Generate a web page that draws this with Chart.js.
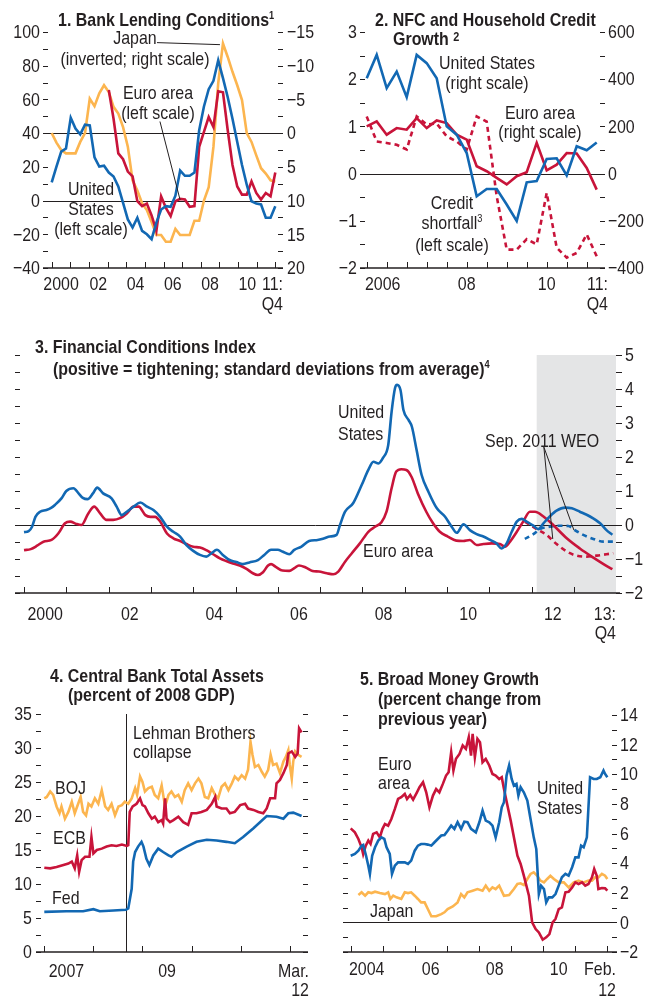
<!DOCTYPE html>
<html>
<head>
<meta charset="utf-8">
<script src="https://cdn.jsdelivr.net/npm/chart.js@4.4.1/dist/chart.umd.min.js"></script>
<style>
  body { margin: 0; background: #fff; }
  #page { position: relative; width: 653px; height: 998px; overflow: hidden; }
  canvas { position: absolute; }
  .t { position: absolute; font: 19px/20px "Liberation Sans", Arial, sans-serif; color: #231f20; white-space: nowrap;
       transform-origin: 0 0; transform: scaleX(0.84); }
  .b { font-weight: bold; }
  .c { transform-origin: 50% 0; transform: translateX(-50%) scaleX(0.84); text-align: center; }
  .s { font-size: 11px; position: relative; top: -7px; }
</style>
</head>
<body>
<div id="page">
  <canvas id="c1" width="326" height="320" style="left:0;top:0"></canvas>
  <canvas id="c2" width="327" height="320" style="left:326px;top:0"></canvas>
  <canvas id="c3" width="653" height="330" style="left:0;top:330px"></canvas>
  <canvas id="c4" width="326" height="343" style="left:0;top:655px"></canvas>
  <canvas id="c5" width="327" height="343" style="left:326px;top:655px"></canvas>

  <!-- panel 1 -->
  <div class="t b" style="left:58px;top:10px">1. Bank Lending Conditions<span class="s">1</span></div>
  <div class="t c" style="left:135px;top:28px;line-height:20.5px">Japan<br>(inverted; right scale)</div>
  <div class="t c" style="left:158px;top:83px">Euro area<br>(left scale)</div>
  <div class="t c" style="left:90.5px;top:179px">United<br>States<br>(left scale)</div>

  <!-- panel 2 -->
  <div class="t b" style="left:375px;top:10px">2. NFC and Household Credit</div>
  <div class="t b" style="left:393px;top:29px">Growth <span style="font-size:13px;position:relative;top:-4px">2</span></div>
  <div class="t c" style="left:486.5px;top:53.4px">United States<br>(right scale)</div>
  <div class="t c" style="left:540px;top:103px;line-height:19px">Euro area<br>(right scale)</div>
  <div class="t c" style="left:452px;top:193.4px">Credit<br>shortfall<span class="s">3</span><br>(left scale)</div>

  <!-- panel 3 -->
  <div class="t b" style="left:35px;top:336.7px">3. Financial Conditions Index</div>
  <div class="t b" style="left:53.3px;top:359.1px">(positive = tightening; standard deviations from average)<span class="s">4</span></div>
  <div class="t" style="left:338px;top:401px;line-height:21.7px">United<br>States</div>
  <div class="t" style="left:363px;top:541px">Euro area</div>
  <div class="t" style="left:485px;top:431.4px">Sep. 2011 WEO</div>

  <!-- panel 4 -->
  <div class="t b" style="left:50px;top:666.4px">4. Central Bank Total Assets</div>
  <div class="t b" style="left:68.3px;top:685.1px">(percent of 2008 GDP)</div>
  <div class="t" style="left:133px;top:723.2px;line-height:19px">Lehman Brothers<br>collapse</div>
  <div class="t" style="left:55px;top:778.4px">BOJ</div>
  <div class="t" style="left:53px;top:828.4px">ECB</div>
  <div class="t" style="left:52px;top:888.4px">Fed</div>

  <!-- panel 5 -->
  <div class="t b" style="left:360px;top:669.1px">5. Broad Money Growth</div>
  <div class="t b" style="left:378.3px;top:689.1px">(percent change from<br>previous year)</div>
  <div class="t" style="left:378px;top:753.9px;line-height:19px">Euro<br>area</div>
  <div class="t" style="left:537px;top:778.4px">United<br>States</div>
  <div class="t" style="left:370px;top:901.1px">Japan</div>
</div>

<script>
"use strict";

// ---- 1. Bank lending conditions, quarterly 2000Q1 - 2011Q4
const lendStart = 2000, lendEnd = 2012;
const lendUS = [10.8, 20.2, 29, 30.9, 49.1, 42.7, 39.3, 45, 44.6, 25.6, 20.2, 20.7, 16.6, 14.3, 8.4, -1.4,
  -11.2, -16, -10.2, -18, -20, -22.9, -13.1, -5.3, -3.3, -3.7, 2.9, 17.8, 14.7, 14.7, 16.6, 41.7,
  55.8, 66.1, 71, 83.2, 72.6, 61.3, 48.5, 34.8, 21.1, 9.4, -0.4, -1.8, -2.3, -10.2, -10.2, -3.3];
const lendEuro = [null, null, null, null, null, null, null, null, null, null, null, null,
  65.6, 48.5, 28, 24.5, 17.2, 14.3, -0.4, -3.3, -1.8, -8.8, -18, 2.5, -4.3, -9.2, -0.4, 1,
  0.6, -3.7, -3.3, 31.9, 40.7, 49.5, 43.6, 64.8, 64.2, 41.7, 21.1, 8.4, 3.5, 3.5, 11.4, 4.5,
  0.6, 4.5, 2.5, 16.6];
const lendJapan = [0, 1.4, 2.5, 3.0, 3.0, 3.0, 1.3, 0, -5.1, -4.0, -5.9, -7.1, -6.1, -3.9, -2.9, -0.9,
  2.0, 7.0, 8.5, 10.4, 11.4, 13.2, 15.1, 15.1, 16.1, 16.1, 14.2, 15.1, 15.1, 15.1, 13.0, 13.0,
  10.0, 8.0, 2.0, -7.4, -13.3, -11.3, -9.1, -7.1, -4.9, 0, 1.3, 3.3, 5.2, 6.0, 7.0, 7.2];

// ---- 2. NFC and household credit, quarterly 2006Q1 - 2011Q4
const creditStart = 2006;
const creditUS = [404, 503, 362, 432, 324, 503, 468, 404, 200, 165, 87, -96, -65, -65, -131, -201,
  -37, -32, 62, 65, -8, 116, 99, 132];
const creditEuro = [200, 221, 165, 193, 186, 235, 193, 225, 214, 165, 144, 31, 10, -18, -46, -11,
  6, 130, 14, 38, 87, 85, 24, -68];
const creditShortfall = [1.21, 0.68, 0.65, 0.61, 0.51, 1.21, 1.04, 1.06, 0.79, 0.68, 0.51, 1.21, 1.1,
  -0.48, -1.61, -1.61, -1.39, -1.5, -0.41, -1.57, -1.78, -1.68, -1.29, -1.75];

// ---- 3. Financial conditions index
const fciUSDates = [2000.0, 2000.11, 2000.19, 2000.27, 2000.38, 2000.53, 2000.65, 2000.73, 2000.89, 2001.0,
  2001.17, 2001.29, 2001.39, 2001.5, 2001.63, 2001.73, 2001.87, 2002.07, 2002.19, 2002.31, 2002.43,
  2002.59, 2002.75, 2002.91, 2003.06, 2003.22, 2003.38, 2003.53, 2003.69, 2003.84, 2004.0, 2004.16,
  2004.31, 2004.43, 2004.56, 2004.7, 2004.86, 2005.02, 2005.17, 2005.33, 2005.53, 2005.68, 2005.84,
  2006.0, 2006.11, 2006.27, 2006.39, 2006.55, 2006.74, 2006.94, 2007.1, 2007.23, 2007.39, 2007.47,
  2007.59, 2007.78, 2007.98, 2008.14, 2008.26, 2008.38, 2008.49, 2008.61, 2008.69, 2008.77, 2008.82,
  2008.9, 2008.97, 2009.09, 2009.17, 2009.28, 2009.4, 2009.56, 2009.76, 2009.95, 2010.11, 2010.23,
  2010.39, 2010.54, 2010.7, 2010.86, 2011.02, 2011.17, 2011.29, 2011.41, 2011.53, 2011.65, 2011.77,
  2011.88, 2012.04, 2012.16, 2012.28, 2012.43, 2012.59, 2012.79, 2012.95, 2013.14, 2013.38, 2013.62,
  2013.77, 2013.91];
const fciUS = [-0.21, -0.18, -0.05, 0.24, 0.39, 0.44, 0.51, 0.59, 0.79, 1.0,
  1.08, 0.93, 0.80, 0.76, 0.93, 1.1, 0.93, 0.78, 0.54, 0.29, 0.39,
  0.54, 0.66, 0.54, 0.44, 0.24, -0.05, -0.2, -0.34, -0.59, -0.76, -0.88,
  -0.93, -0.83, -0.73, -0.88, -1.03, -1.09, -1.15, -1.1, -1.03, -0.88, -0.73,
  -0.73, -0.78, -0.86, -0.73, -0.64, -0.47, -0.44, -0.39, -0.34, -0.29, 0,
  0.39, 0.64, 1.17, 1.62, 1.86, 1.81, 1.98, 2.35, 3.33, 4.02, 4.12,
  3.97, 3.38, 3.09, 2.89, 2.21, 1.47, 0.98, 0.49, 0.25, -0.05, -0.23,
  0.02, -0.15, -0.27, -0.34, -0.44, -0.54, -0.69, -0.54, -0.2, 0.1, 0.18,
  0.1, -0.02, -0.12, 0.05, 0.25, 0.42, 0.51, 0.49, 0.39, 0.25, 0.05,
  -0.15, -0.29];
const fciEuroDates = [2000.0, 2000.16, 2000.31, 2000.46, 2000.65, 2000.81, 2000.97, 2001.09, 2001.24, 2001.36,
  2001.52, 2001.66, 2001.8, 2001.95, 2002.11, 2002.27, 2002.43, 2002.59, 2002.71, 2002.87, 2002.99,
  2003.1, 2003.22, 2003.38, 2003.53, 2003.69, 2003.84, 2004.0, 2004.16, 2004.31, 2004.47, 2004.63,
  2004.78, 2004.94, 2005.1, 2005.26, 2005.41, 2005.53, 2005.65, 2005.77, 2005.84, 2005.96, 2006.11,
  2006.27, 2006.39, 2006.5, 2006.66, 2006.82, 2006.97, 2007.16, 2007.31, 2007.43, 2007.59, 2007.75,
  2007.94, 2008.14, 2008.3, 2008.45, 2008.57, 2008.69, 2008.8, 2008.92, 2009.04, 2009.16, 2009.31,
  2009.51, 2009.67, 2009.83, 2010.02, 2010.22, 2010.38, 2010.54, 2010.7, 2010.86, 2011.06, 2011.25,
  2011.37, 2011.49, 2011.65, 2011.8, 2011.96, 2012.08, 2012.28, 2012.51, 2012.83, 2013.14, 2013.46,
  2013.7, 2013.91];
const fciEuro = [-0.74, -0.71, -0.61, -0.49, -0.44, -0.25, 0.05, 0.1, 0.03, 0,
  0.34, 0.54, 0.34, 0.15, 0.15, 0.2, 0.34, 0.54, 0.54, 0.29, 0.24,
  0.24, 0.1, -0.25, -0.39, -0.47, -0.56, -0.64, -0.66, -0.74, -0.86, -0.98,
  -1.06, -1.13, -1.19, -1.29, -1.42, -1.47, -1.39, -1.19, -1.15, -1.24, -1.34,
  -1.35, -1.27, -1.19, -1.25, -1.35, -1.37, -1.42, -1.45, -1.37, -1.08, -0.83,
  -0.54, -0.2, -0.05, 0.08, 0.39, 1.08, 1.57, 1.64, 1.62, 1.42, 0.93,
  0.39, 0.05, -0.2, -0.34, -0.46, -0.47, -0.44, -0.59, -0.56, -0.54, -0.56,
  -0.64, -0.49, -0.2, 0.1, 0.39, 0.39, 0.25, 0, -0.39, -0.69, -0.96,
  -1.15, -1.3];
const weoUSDates = [2011.84, 2012.04, 2012.2, 2012.43, 2012.67, 2012.87, 2013.02, 2013.22, 2013.46, 2013.7, 2013.93];
const weoUS = [-0.41, -0.27, -0.12, -0.05, -0.02, -0.03, -0.15, -0.29, -0.41, -0.49, -0.49];
const weoEuroDates = [2011.84, 2012.12, 2012.35, 2012.59, 2012.83, 2013.06, 2013.3, 2013.54, 2013.77, 2013.93];
const weoEuro = [0.1, -0.12, -0.29, -0.56, -0.78, -0.9, -0.93, -0.9, -0.86, -0.83];
const forecastFrom = 2012.12;

// ---- 4. Central bank total assets (percent of 2008 GDP)
const fedDates = [2007.0, 2007.45, 2007.79, 2008.0, 2008.13, 2008.41, 2008.66, 2008.71, 2008.78, 2008.81,
  2008.85, 2008.91, 2008.98, 2009.02, 2009.08, 2009.14, 2009.22, 2009.32, 2009.42, 2009.53, 2009.59,
  2009.7, 2009.9, 2010.1, 2010.31, 2010.51, 2010.71, 2010.88, 2011.05, 2011.26, 2011.53, 2011.73,
  2011.87, 2011.97, 2012.07, 2012.24];
const fed = [5.9, 6.0, 6.0, 6.3, 6.0, 6.1, 6.2, 6.4, 9.3, 13.3,
  14.7, 15.5, 16.2, 15.5, 13.7, 12.8, 14.2, 15.2, 14.7, 14.2, 14.0,
  14.7, 15.5, 16.2, 16.5, 16.4, 16.2, 16.0, 16.9, 18.2, 20.0, 19.9,
  19.6, 20.4, 20.5, 20.0];
const ecbDates = [2007.0, 2007.12, 2007.25, 2007.39, 2007.49, 2007.56, 2007.62, 2007.67, 2007.71, 2007.76,
  2007.83, 2007.92, 2007.96, 2008.0, 2008.07, 2008.17, 2008.27, 2008.37, 2008.47, 2008.58, 2008.68,
  2008.71, 2008.74, 2008.8, 2008.88, 2008.95, 2009.0, 2009.05, 2009.12, 2009.19, 2009.25, 2009.32,
  2009.39, 2009.42, 2009.46, 2009.49, 2009.56, 2009.63, 2009.73, 2009.83, 2009.93, 2010.0, 2010.1,
  2010.2, 2010.31, 2010.41, 2010.48, 2010.51, 2010.61, 2010.71, 2010.78, 2010.88, 2010.99, 2011.09,
  2011.15, 2011.26, 2011.36, 2011.46, 2011.53, 2011.6, 2011.7, 2011.73, 2011.8, 2011.87, 2011.94,
  2011.97, 2012.04, 2012.11, 2012.16, 2012.19, 2012.24];
const ecb = [12.4, 12.3, 12.5, 12.8, 13.0, 13.3, 12.3, 14.2, 11.8, 13.5,
  14.0, 14.0, 16.9, 14.5, 15.0, 15.2, 15.5, 15.7, 15.6, 15.8, 15.6,
  15.7, 20.6, 21.4, 21.8, 22.6, 21.6, 21.4, 20.4, 19.6, 19.9, 19.1,
  19.4, 18.9, 22.6, 19.6, 19.1, 19.4, 19.9, 19.1, 18.7, 20.4, 20.4,
  20.6, 20.9, 21.8, 22.8, 21.4, 21.1, 21.1, 20.4, 20.6, 21.6, 21.8,
  21.1, 20.9, 20.6, 20.4, 21.1, 22.6, 22.6, 24.8, 25.3, 26.3, 27.5,
  29.2, 29.5, 28.7, 29.2, 32.9, 32.3];
const bojDates = [2007.0, 2007.05, 2007.12, 2007.18, 2007.25, 2007.31, 2007.35, 2007.42, 2007.49, 2007.56,
  2007.62, 2007.69, 2007.74, 2007.79, 2007.85, 2007.9, 2007.96, 2008.03, 2008.1, 2008.17, 2008.24,
  2008.3, 2008.37, 2008.44, 2008.51, 2008.58, 2008.64, 2008.71, 2008.78, 2008.85, 2008.89, 2008.95,
  2009.0, 2009.05, 2009.12, 2009.19, 2009.25, 2009.32, 2009.39, 2009.46, 2009.53, 2009.59, 2009.66,
  2009.73, 2009.8, 2009.86, 2009.93, 2010.0, 2010.07, 2010.14, 2010.2, 2010.27, 2010.34, 2010.41,
  2010.48, 2010.54, 2010.61, 2010.68, 2010.75, 2010.82, 2010.88, 2010.95, 2011.02, 2011.09, 2011.15,
  2011.2, 2011.24, 2011.29, 2011.36, 2011.43, 2011.49, 2011.56, 2011.61, 2011.66, 2011.73, 2011.8,
  2011.87, 2011.92, 2011.97, 2012.0, 2012.04, 2012.07, 2012.11, 2012.17, 2012.24];
const boj = [22.6, 22.8, 23.6, 23.1, 21.4, 20.4, 21.4, 19.6, 20.6, 22.1,
  20.4, 21.8, 22.8, 20.6, 20.1, 21.8, 21.4, 22.6, 21.8, 23.8, 21.4,
  20.9, 21.8, 20.1, 21.4, 21.6, 22.1, 21.8, 22.6, 24.1, 23.1, 25.8,
  25.0, 23.6, 24.1, 24.3, 23.1, 22.6, 24.5, 21.4, 23.1, 23.6, 22.8,
  23.1, 22.1, 23.8, 24.8, 23.8, 24.8, 25.5, 24.8, 22.8, 22.6, 24.1,
  23.1, 22.6, 24.3, 24.8, 23.8, 24.8, 25.8, 25.3, 26.0, 25.5, 26.8,
  30.9, 29.0, 27.2, 27.5, 26.5, 25.8, 26.8, 29.0, 27.5, 27.7, 26.3,
  28.0, 28.7, 29.7, 27.5, 25.5, 28.0, 29.5, 29.0, 28.7];
const lehmanDate = 2008.67;

// ---- 5. Broad money growth (percent change from previous year)
const m3EuroDates = [2004.0, 2004.13, 2004.24, 2004.34, 2004.39, 2004.47, 2004.55, 2004.62, 2004.7, 2004.81,
  2004.91, 2004.99, 2005.07, 2005.17, 2005.27, 2005.38, 2005.48, 2005.58, 2005.69, 2005.76, 2005.86,
  2005.95, 2006.07, 2006.15, 2006.26, 2006.36, 2006.46, 2006.57, 2006.67, 2006.77, 2006.88, 2006.98,
  2007.06, 2007.14, 2007.21, 2007.29, 2007.4, 2007.5, 2007.6, 2007.69, 2007.76, 2007.81, 2007.88,
  2007.96, 2008.04, 2008.12, 2008.22, 2008.33, 2008.43, 2008.53, 2008.64, 2008.72, 2008.79, 2008.9,
  2009.0, 2009.1, 2009.21, 2009.31, 2009.41, 2009.57, 2009.67, 2009.78, 2009.88, 2010.0, 2010.11,
  2010.21, 2010.31, 2010.4, 2010.5, 2010.6, 2010.71, 2010.81, 2010.92, 2011.02, 2011.12, 2011.23,
  2011.33, 2011.43, 2011.54, 2011.61, 2011.69, 2011.74, 2011.85, 2011.95, 2012.02];
const m3Euro = [6.35, 6.08, 5.63, 5.07, 4.6, 5.18, 5.52, 5.3, 5.97, 6.08,
  5.74, 6.3, 6.64, 6.53, 6.98, 7.66, 8.33, 8.45, 8.67, 8.33, 8.6,
  8.29, 8.78, 9.12, 9.46, 8.78, 7.77, 8.56, 9.0, 8.78, 9.35, 9.91,
  10.14, 11.49, 10.25, 11.04, 11.37, 11.94, 11.71, 12.5, 11.26, 12.73, 11.15,
  12.39, 12.16, 10.81, 11.04, 10.59, 10.02, 9.91, 9.68, 9.8, 9.0, 7.88,
  6.87, 5.74, 4.5, 3.94, 3.15, 1.8, 0, -0.45, -0.68, -1.17, -1.01,
  -0.79, 0, 0.23, 0.9, 1.01, 2.03, 2.07, 2.36, 2.7, 2.59, 2.7,
  2.48, 2.59, 3.04, 3.6, 3.15, 2.25, 2.32, 2.3, 2.14];
const m2USDates = [2004.0, 2004.13, 2004.24, 2004.34, 2004.39, 2004.48, 2004.55, 2004.6, 2004.67, 2004.76,
  2004.86, 2004.96, 2005.05, 2005.12, 2005.22, 2005.29, 2005.38, 2005.48, 2005.58, 2005.69, 2005.79,
  2005.89, 2006.0, 2006.1, 2006.2, 2006.31, 2006.41, 2006.52, 2006.62, 2006.72, 2006.83, 2006.93,
  2007.03, 2007.14, 2007.24, 2007.34, 2007.45, 2007.55, 2007.65, 2007.76, 2007.91, 2008.02, 2008.12,
  2008.22, 2008.33, 2008.43, 2008.53, 2008.64, 2008.72, 2008.79, 2008.87, 2008.95, 2009.03, 2009.1,
  2009.18, 2009.24, 2009.31, 2009.41, 2009.52, 2009.62, 2009.72, 2009.8, 2009.88, 2009.95, 2010.04,
  2010.11, 2010.19, 2010.3, 2010.4, 2010.5, 2010.6, 2010.71, 2010.81, 2010.92, 2011.02, 2011.12,
  2011.2, 2011.28, 2011.38, 2011.48, 2011.59, 2011.69, 2011.8, 2011.9, 2011.95, 2012.02];
const m2US = [4.5, 4.62, 4.84, 5.18, 5.23, 4.5, 3.83, 3.27, 4.5, 5.07,
  5.52, 5.74, 5.63, 5.07, 4.62, 3.27, 3.83, 4.05, 4.05, 4.05, 3.94,
  4.17, 4.84, 5.18, 5.29, 5.29, 5.25, 5.18, 5.41, 5.63, 5.86, 5.9,
  6.19, 6.53, 6.31, 6.76, 6.31, 6.8, 6.76, 6.31, 6.08, 6.76, 7.55,
  6.87, 6.76, 6.53, 5.74, 6.76, 7.77, 8.11, 9.91, 10.59, 9.68, 9.23,
  9.35, 8.56, 9.12, 8.78, 8.22, 6.98, 5.74, 4.95, 1.91, 2.48, 2.25,
  1.35, 1.69, 1.69, 1.91, 2.48, 3.04, 3.27, 3.15, 3.72, 4.39, 4.39,
  5.18, 5.07, 5.74, 9.8, 9.68, 9.68, 9.8, 10.25, 10.02, 9.8];
const m2JapanDates = [2004.24, 2004.34, 2004.45, 2004.55, 2004.65, 2004.76, 2004.91, 2005.07, 2005.17, 2005.24,
  2005.33, 2005.43, 2005.58, 2005.69, 2005.79, 2005.89, 2006.0, 2006.1, 2006.2, 2006.31, 2006.41,
  2006.52, 2006.67, 2006.83, 2006.93, 2007.03, 2007.19, 2007.34, 2007.45, 2007.55, 2007.65, 2007.81,
  2007.96, 2008.12, 2008.22, 2008.33, 2008.43, 2008.53, 2008.64, 2008.79, 2008.95, 2009.1, 2009.21,
  2009.31, 2009.41, 2009.52, 2009.62, 2009.72, 2009.83, 2009.93, 2010.04, 2010.14, 2010.24, 2010.35,
  2010.5, 2010.66, 2010.81, 2010.97, 2011.12, 2011.28, 2011.43, 2011.54, 2011.64, 2011.74, 2011.85,
  2011.95, 2012.02];
const m2Japan = [1.85, 2.03, 1.8, 2.03, 1.98, 2.07, 1.98, 1.91, 2.03, 1.58,
  1.8, 1.69, 1.58, 2.03, 1.98, 2.03, 1.8, 1.58, 1.35, 1.35, 0.9,
  0.41, 0.41, 0.56, 0.68, 0.9, 1.08, 1.35, 1.91, 1.69, 2.03, 2.14,
  2.25, 2.14, 2.48, 2.14, 2.36, 2.25, 2.48, 1.8, 1.85, 2.25, 2.59,
  2.64, 2.52, 2.93, 3.27, 3.38, 3.15, 2.82, 2.7, 2.93, 3.15, 2.93,
  2.7, 2.7, 2.36, 2.7, 2.82, 2.7, 2.82, 2.82, 3.04, 3.04, 3.27,
  3.15, 2.93];

// ---- styling
const blue = "#1268b3", red = "#c8143a", orange = "#fcb54f", ink = "#231f20";
const fam = '"Liberation Sans", Arial, sans-serif';
const squeezeX = 0.84;

Chart.defaults.font.family = fam;
Chart.defaults.font.size = 19;
Chart.defaults.color = ink;
Chart.defaults.animation = false;
Chart.defaults.responsive = false;
Chart.defaults.plugins.legend.display = false;
Chart.defaults.plugins.tooltip.enabled = false;
Chart.defaults.elements.point.radius = 0;
Chart.defaults.elements.line.borderWidth = 2.6;

const fmt = (v) => String(v).replace("-", "\u2212");
const zip = (xs, ys) => xs.map((x, i) => ({ x: x, y: ys[i] }));
const spread = (n, a, b) => Array.from({ length: n }, (_, i) => a + (i * (b - a)) / (n - 1));
const quarters = (n, a) => Array.from({ length: n }, (_, i) => a + i / 4);
const range = (a, b, s) => { const r = []; for (let v = a; v <= b + 1e-9; v += s) r.push(v); return r; };

// condensed text, like the narrow face of the original
function squeeze(ctx, s, x, y) {
  ctx.save();
  ctx.translate(x, y);
  ctx.scale(squeezeX, 1);
  ctx.fillText(s, 0, 0);
  ctx.restore();
}

function yAxis(position, min, max, step, width, pad, show, extra) {
  return Object.assign({
    position: position, min: min, max: max,
    grid: { display: false, drawTicks: false },
    border: { display: false },
    ticks: {
      stepSize: step, autoSkip: false, padding: pad, color: "rgba(0,0,0,0)",
      callback: (v) => (show(v) ? fmt(v) : ""),
    },
    afterFit: (s) => { s.width = width; },
  }, extra || {});
}
const xAxis = (min, max) => ({ type: "linear", display: false, min: min, max: max });

// axis furniture: inward tick marks, reference lines, labels, leader lines
const frame = {
  id: "frame",
  beforeDatasetsDraw(chart, args, o) {
    const { ctx, chartArea: a } = chart;
    const x = chart.scales.x, y = chart.scales.y;
    ctx.save();
    if (o.shadeFrom !== undefined) {
      const sx = x.getPixelForValue(o.shadeFrom);
      ctx.fillStyle = "#e4e5e6";
      ctx.fillRect(sx, a.top, a.right - sx, a.bottom - a.top);
    }
    ctx.strokeStyle = ink;
    ctx.lineWidth = 1;
    ctx.beginPath();
    (o.hLines || []).forEach((v) => {
      const py = Math.round(y.getPixelForValue(v)) + 0.5;
      ctx.moveTo(a.left, py); ctx.lineTo(a.right, py);
    });
    (o.vLines || []).forEach((v) => {
      const px = Math.round(x.getPixelForValue(v)) + 0.5;
      ctx.moveTo(px, a.top); ctx.lineTo(px, a.bottom);
    });
    ctx.stroke();
    ctx.restore();
  },
  afterDatasetsDraw(chart, args, o) {
    const { ctx, chartArea: a } = chart;
    const x = chart.scales.x, y = chart.scales.y;
    ctx.save();
    ctx.strokeStyle = ink;
    ctx.lineWidth = 1;
    ctx.beginPath();
    y.ticks.forEach((t) => {
      const py = Math.round(y.getPixelForValue(t.value)) + 0.5;
      ctx.moveTo(a.left, py); ctx.lineTo(a.left + 5, py);
      if (o.rightOut) { ctx.moveTo(a.right, py); ctx.lineTo(a.right + 6, py); }
      else { ctx.moveTo(a.right - 5, py); ctx.lineTo(a.right, py); }
    });
    o.xTicks.forEach((v) => {
      const px = Math.round(x.getPixelForValue(v)) + 0.5;
      ctx.moveTo(px, a.bottom); ctx.lineTo(px, a.bottom - 6);
    });
    (o.leaders || []).forEach((l) => {
      ctx.moveTo(x.getPixelForValue(l[0]), y.getPixelForValue(l[1]));
      ctx.lineTo(x.getPixelForValue(l[2]), y.getPixelForValue(l[3]));
    });
    ctx.stroke();

    ctx.lineWidth = 1.6;
    ctx.beginPath();
    ctx.moveTo(a.left, a.bottom);
    ctx.lineTo(a.right + (o.axisExtra || 0), a.bottom);
    ctx.stroke();

    ctx.fillStyle = ink;
    ctx.font = "19px " + fam;

    // value labels of every y scale
    ctx.textBaseline = "middle";
    Object.values(chart.scales).forEach((s) => {
      if (s.axis !== "y") return;
      const pad = s.options.ticks.padding;
      const left = s.position === "left";
      ctx.textAlign = left ? "right" : "left";
      s.ticks.forEach((t) => {
        if (t.label) squeeze(ctx, t.label, left ? s.right - pad : s.left + pad, s.getPixelForValue(t.value) + 1);
      });
    });

    // date labels, centred in their year
    ctx.textBaseline = "alphabetic";
    o.xLabels.forEach((l) => {
      const px = l.right ? a.right + (l.dx || 0) : x.getPixelForValue(l.v);
      ctx.textAlign = l.right ? "right" : "center";
      [].concat(l.t).forEach((s, i) => squeeze(ctx, s, px, a.bottom + o.labelDy + i * (o.lineGap || 20)));
    });
    ctx.restore();
  },
};

// ---- chart 1
const lendX = spread(lendUS.length, lendStart, lendEnd);
new Chart(document.getElementById("c1"), {
  type: "line",
  data: {
    datasets: [
      { data: zip(lendX, lendUS), borderColor: blue, yAxisID: "y" },
      { data: zip(lendX, lendEuro), borderColor: red, yAxisID: "y" },
      { data: zip(lendX, lendJapan), borderColor: orange, yAxisID: "y2" },
    ],
  },
  options: {
    layout: { padding: { top: 32, bottom: 52 } },
    scales: {
      x: xAxis(1999.533, 2012.413),
      y: yAxis("left", -40, 100, 10, 43, 3, (v) => v % 20 === 0),
      y2: yAxis("right", -15, 20, 5, 43, 4, () => true, { reverse: true }),
    },
    plugins: {
      frame: {
        hLines: [40, 0],
        xTicks: range(2000, 2012, 1),
        labelDy: 22,
        xLabels: [
          { v: 2000.5, t: "2000" }, { v: 2002.5, t: "02" }, { v: 2004.5, t: "04" },
          { v: 2006.5, t: "06" }, { v: 2008.5, t: "08" }, { v: 2010.5, t: "10" },
          { right: true, t: ["11:", "Q4"] },
        ],
        leaders: [[2005.65, 93.7, 2009.03, 92.5], [2005.81, 46.9, 2006.89, 0.4]],
      },
    },
  },
  plugins: [frame],
});

// ---- chart 2
const creditX = quarters(creditUS.length, creditStart);
new Chart(document.getElementById("c2"), {
  type: "line",
  data: {
    datasets: [
      { data: zip(creditX, creditUS), borderColor: blue, yAxisID: "y2" },
      { data: zip(creditX, creditEuro), borderColor: red, yAxisID: "y2" },
      { data: zip(creditX, creditShortfall), borderColor: red, borderDash: [5, 4], yAxisID: "y" },
    ],
  },
  options: {
    layout: { padding: { top: 32, bottom: 52 } },
    scales: {
      x: xAxis(2005.8325, 2011.9575),
      y: yAxis("left", -2, 3, 0.5, 34, 3, (v) => Number.isInteger(v)),
      y2: yAxis("right", -400, 600, 200, 48, 3, () => true),
    },
    plugins: {
      frame: {
        hLines: [0],
        xTicks: range(2006, 2011.5, 0.5),
        labelDy: 22,
        xLabels: [
          { v: 2006.4, t: "2006" }, { v: 2008.5, t: "08" }, { v: 2010.5, t: "10" },
          { right: true, dx: 3, t: ["11:", "Q4"] },
        ],
      },
    },
  },
  plugins: [frame],
});

// ---- chart 3
new Chart(document.getElementById("c3"), {
  type: "line",
  data: {
    datasets: [
      { data: zip(fciUSDates, fciUS), borderColor: blue, cubicInterpolationMode: "monotone" },
      { data: zip(fciEuroDates, fciEuro), borderColor: red, cubicInterpolationMode: "monotone" },
      { data: zip(weoUSDates, weoUS), borderColor: blue, borderDash: [5, 4], cubicInterpolationMode: "monotone" },
      { data: zip(weoEuroDates, weoEuro), borderColor: red, borderDash: [5, 4], cubicInterpolationMode: "monotone" },
    ],
  },
  options: {
    layout: { padding: { left: 15, top: 25, bottom: 67 } },
    scales: {
      x: xAxis(1999.787, 2013.995),
      y: yAxis("right", -2, 5, 0.5, 37, 9, (v) => Number.isInteger(v)),
    },
    plugins: {
      frame: {
        shadeFrom: forecastFrom,
        hLines: [0],
        rightOut: true,
        axisExtra: 4,
        xTicks: range(2000, 2013, 1),
        labelDy: 27,
        lineGap: 19,
        xLabels: [
          { v: 2000.5, t: "2000" }, { v: 2002.5, t: "02" }, { v: 2004.5, t: "04" },
          { v: 2006.5, t: "06" }, { v: 2008.5, t: "08" }, { v: 2010.5, t: "10" },
          { v: 2012.5, t: "12" }, { right: true, t: ["13:", "Q4"] },
        ],
        leaders: [[2012.29, 2.29, 2012.5, -0.41], [2012.29, 2.29, 2013.0, -0.15]],
      },
    },
  },
  plugins: [frame],
});

// ---- chart 4
new Chart(document.getElementById("c4"), {
  type: "line",
  data: {
    datasets: [
      { data: zip(fedDates, fed), borderColor: blue },
      { data: zip(ecbDates, ecb), borderColor: red },
      { data: zip(bojDates, boj), borderColor: orange },
    ],
  },
  options: {
    layout: { padding: { top: 59, bottom: 46, right: 18 } },
    scales: {
      x: xAxis(2006.831, 2012.371),
      y: yAxis("left", 0, 35, 2.5, 36, 4, (v) => v % 5 === 0),
    },
    plugins: {
      frame: {
        vLines: [lehmanDate],
        xTicks: range(2007, 2012, 1),
        labelDy: 25,
        lineGap: 19,
        xLabels: [
          { v: 2007.45, t: "2007" }, { v: 2009.5, t: "09" },
          { right: true, dx: 1, t: ["Mar.", "12"] },
        ],
      },
    },
  },
  plugins: [frame],
});

// ---- chart 5
new Chart(document.getElementById("c5"), {
  type: "line",
  data: {
    datasets: [
      { data: zip(m2USDates, m2US), borderColor: blue },
      { data: zip(m3EuroDates, m3Euro), borderColor: red },
      { data: zip(m2JapanDates, m2Japan), borderColor: orange },
    ],
  },
  options: {
    layout: { padding: { left: 17, top: 60, bottom: 46 } },
    scales: {
      x: xAxis(2003.759, 2012.322),
      y: yAxis("right", -2, 14, 1, 36, 3, (v) => v % 2 === 0),
    },
    plugins: {
      frame: {
        hLines: [0],
        xTicks: range(2004, 2012, 1),
        labelDy: 23,
        lineGap: 21,
        xLabels: [
          { v: 2004.5, t: "2004" }, { v: 2006.5, t: "06" }, { v: 2008.5, t: "08" },
          { v: 2010.5, t: "10" }, { right: true, dx: -1, t: ["Feb.", "12"] },
        ],
      },
    },
  },
  plugins: [frame],
});
</script>
</body>
</html>
